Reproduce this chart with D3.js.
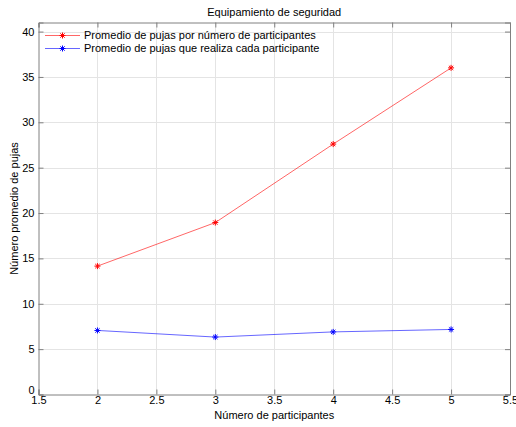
<!DOCTYPE html>
<html><head><meta charset="utf-8">
<script src="https://cdn.jsdelivr.net/npm/d3@7"></script>
<style>
html,body{margin:0;padding:0;background:#fff;}
svg{display:block;font-family:"Liberation Sans",Arial,sans-serif;}
</style></head>
<body>
<svg id="c" width="516" height="427"></svg>
<script>
const participantes = [2, 3, 4, 5];
const pujasPorNumero = [14.15, 18.95, 27.6, 36.0];
const pujasPorParticipante = [7.06, 6.33, 6.9, 7.17];
const xTicks = [1.5, 2, 2.5, 3, 3.5, 4, 4.5, 5, 5.5];
const yTicks = [0, 5, 10, 15, 20, 25, 30, 35, 40];
const seriesNames = ["Promedio de pujas por número de participantes", "Promedio de pujas que realiza cada participante"];
const seriesColors = ["#ff0000", "#0000ff"];
const titleText = "Equipamiento de seguridad";
const xLabel = "Número de participantes";
const yLabel = "Número promedio de pujas";

const svg = d3.select("#c");
const L = 38.5, R = 510, T = 22.5, B = 394.5;
const x = d3.scaleLinear().domain([1.5, 5.5]).range([L, R]);
const y = d3.scaleLinear().domain([0, 41]).range([B, T]);

// grid
const g = svg.append("g");
g.selectAll(".gx").data(xTicks.slice(1, -1)).join("line")
  .attr("x1", d => Math.round(x(d)) + 0.5).attr("x2", d => Math.round(x(d)) + 0.5)
  .attr("y1", T).attr("y2", B).attr("stroke", "#e4e4e4").attr("stroke-width", 1);
g.selectAll(".gy").data(yTicks.slice(1)).join("line")
  .attr("y1", d => Math.round(y(d)) + 0.5).attr("y2", d => Math.round(y(d)) + 0.5)
  .attr("x1", L).attr("x2", R).attr("stroke", "#e4e4e4").attr("stroke-width", 1);

// axes (ticks inward)
const axisColor = "#808080";
const xb = svg.append("g").attr("transform", `translate(0,${B})`)
  .call(d3.axisBottom(x).tickValues(xTicks).tickSize(-5).tickPadding(4).tickFormat(d3.format("")));
const xt = svg.append("g").attr("transform", `translate(0,${T})`)
  .call(d3.axisTop(x).tickValues(xTicks).tickSize(-5).tickFormat(""));
const yl = svg.append("g").attr("transform", `translate(${L},0)`)
  .call(d3.axisLeft(y).tickValues(yTicks).tickSize(-5).tickPadding(4).tickFormat(d3.format("")));
const yr = svg.append("g").attr("transform", `translate(${R},0)`)
  .call(d3.axisRight(y).tickValues(yTicks).tickSize(-5).tickFormat(""));
[xb, xt, yl, yr].forEach(a => {
  a.select(".domain").attr("stroke", axisColor);
  a.selectAll(".tick line").attr("stroke", axisColor);
  a.selectAll("text").attr("fill", "#000").style("font-size", "11px").style("font-family", '"Liberation Sans",Arial,sans-serif');
});
xb.selectAll("text").attr("dy", "0.5em");
yl.selectAll(".tick").filter(d => d === 0).select("text").attr("dy", "-0.05em");

// series
const datasets = [pujasPorNumero, pujasPorParticipante];
const line = d3.line().x(d => x(d[0])).y(d => y(d[1]));
function star(sel, cx, cy, color, r) {
  const gg = sel.append("g").attr("stroke", color).attr("stroke-width", 1);
  gg.append("line").attr("x1", cx - r).attr("x2", cx + r).attr("y1", cy).attr("y2", cy);
  gg.append("line").attr("x1", cx).attr("x2", cx).attr("y1", cy - r).attr("y2", cy + r);
  const k = r * 0.72;
  gg.append("line").attr("x1", cx - k).attr("x2", cx + k).attr("y1", cy - k).attr("y2", cy + k);
  gg.append("line").attr("x1", cx - k).attr("x2", cx + k).attr("y1", cy + k).attr("y2", cy - k);
}
datasets.forEach((vals, i) => {
  const pts = participantes.map((p, j) => [p, vals[j]]);
  svg.append("path").attr("d", line(pts)).attr("fill", "none")
    .attr("stroke", seriesColors[i]).attr("stroke-opacity", 0.6).attr("stroke-width", 1);
  pts.forEach(p => star(svg, x(p[0]), y(p[1]), seriesColors[i], 3));
});

// legend
seriesNames.forEach((name, i) => {
  const ly = 35.5 + i * 13;
  svg.append("line").attr("x1", 45).attr("x2", 80).attr("y1", ly).attr("y2", ly)
    .attr("stroke", seriesColors[i]).attr("stroke-opacity", 0.6);
  star(svg, 62.5, ly, seriesColors[i], 3);
  svg.append("text").attr("x", 84).attr("y", ly).attr("dy", "0.35em")
    .style("font-size", "11px").text(name);
});

// titles
svg.append("text").attr("x", (L + R) / 2).attr("y", 12).attr("dy", "0.35em")
  .attr("text-anchor", "middle").style("font-size", "11px").text(titleText);
svg.append("text").attr("x", (L + R) / 2).attr("y", 415).attr("dy", "0.35em")
  .attr("text-anchor", "middle").style("font-size", "11px").text(xLabel);
svg.append("text").attr("transform", `translate(14,${(T + B) / 2}) rotate(-90)`)
  .attr("dy", "0.35em").attr("text-anchor", "middle").style("font-size", "11px").text(yLabel);
</script>
</body></html>
